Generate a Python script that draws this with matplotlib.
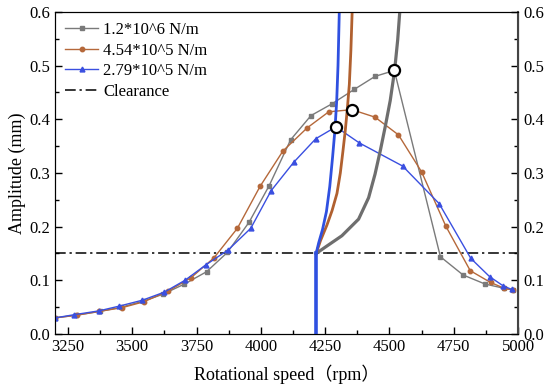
import matplotlib
matplotlib.use("Agg")
import matplotlib.pyplot as plt
from matplotlib.ticker import MultipleLocator

plt.rcParams['font.family'] = ['Liberation Serif', 'Noto Sans CJK SC']
plt.rcParams['mathtext.fontset'] = 'stix'

# Frequency-response series
gray_x = [3200, 3281, 3374, 3458, 3542, 3619, 3703, 3789, 3870, 3954, 4032, 4116, 4195,
          4277, 4364, 4444, 4519, 4698, 4786, 4872, 4947, 4980]
gray_y = [0.030, 0.035, 0.042, 0.050, 0.061, 0.074, 0.093, 0.116, 0.152, 0.208, 0.276, 0.362,
          0.407, 0.429, 0.456, 0.480, 0.491, 0.144, 0.110, 0.093, 0.085, 0.082]

brown_x = [3200, 3285, 3370, 3460, 3545, 3640, 3729, 3818, 3909, 3997, 4086, 4180, 4264,
           4354, 4444, 4535, 4625, 4719, 4814, 4893, 4947, 4980]
brown_y = [0.030, 0.035, 0.042, 0.049, 0.060, 0.080, 0.105, 0.142, 0.197, 0.275, 0.341, 0.384,
           0.414, 0.418, 0.404, 0.371, 0.302, 0.201, 0.118, 0.096, 0.085, 0.082]

blue_x = [3200, 3275, 3370, 3450, 3540, 3625, 3705, 3787, 3874, 3961, 4040, 4128, 4214,
          4292, 4383, 4551, 4693, 4816, 4889, 4941, 4975]
blue_y = [0.030, 0.036, 0.043, 0.052, 0.063, 0.078, 0.100, 0.129, 0.157, 0.197, 0.267, 0.320,
          0.364, 0.386, 0.356, 0.313, 0.243, 0.141, 0.107, 0.090, 0.083]

# Backbone curves
bb_gray_x = [4215, 4251, 4315, 4380, 4419, 4444, 4465, 4483, 4503, 4520, 4532, 4540]
bb_gray_y = [0.150, 0.162, 0.183, 0.214, 0.254, 0.298, 0.343, 0.385, 0.435, 0.491, 0.548, 0.600]
bb_brown_x = [4215, 4232, 4257, 4277, 4296, 4309, 4319, 4328, 4336, 4344, 4350, 4355]
bb_brown_y = [0.150, 0.174, 0.203, 0.230, 0.262, 0.300, 0.340, 0.378, 0.418, 0.465, 0.528, 0.600]
bb_blue_x = [4215, 4225, 4240, 4255, 4268, 4279, 4288, 4295, 4300, 4305]
bb_blue_y = [0.150, 0.170, 0.195, 0.228, 0.275, 0.330, 0.380, 0.435, 0.500, 0.600]
stem_x = [4215, 4215]
stem_y = [0.0, 0.150]

# Jump points (open circles)
jump_x = [4519, 4354, 4292]
jump_y = [0.491, 0.418, 0.386]

clearance = 0.15
labels = ['1.2*10^6 N/m', '4.54*10^5 N/m', '2.79*10^5 N/m', 'Clearance']

c_gray = '#7a7a7a'
c_brown = '#b5683a'
c_blue = '#3a4fe0'

fig = plt.figure(figsize=(5.5, 3.89), dpi=100)
ax = fig.add_axes([0.1, 0.1414, 0.842, 0.8278])

ax.plot(gray_x, gray_y, color=c_gray, lw=1.0, marker='s', ms=3.2, label=labels[0], zorder=3)
ax.plot(brown_x, brown_y, color=c_brown, lw=1.0, marker='o', ms=3.2, label=labels[1], zorder=3)
ax.plot(blue_x, blue_y, color=c_blue, lw=1.0, marker='^', ms=3.5, label=labels[2], zorder=3)
ax.axhline(clearance, color='black', lw=1.1, ls=(0, (7, 2.5, 1.5, 2.5)), label=labels[3], zorder=2)

ax.plot(bb_gray_x, bb_gray_y, color='#6e6e6e', lw=2.3, zorder=4)
ax.plot(bb_brown_x, bb_brown_y, color='#b0602f', lw=2.0, zorder=4)
ax.plot(bb_blue_x, bb_blue_y, color='#2f50e0', lw=2.0, zorder=4)
ax.plot(stem_x, stem_y, color='#2f50e0', lw=2.6, zorder=4)

ax.plot(jump_x, jump_y, ls='none', marker='o', ms=8, mfc='white', mec='black', mew=1.6, zorder=6)

ax.set_xlim(3200, 5000)
ax.set_ylim(0, 0.6)
ax.set_xticks([3250, 3500, 3750, 4000, 4250, 4500, 4750, 5000])
ax.xaxis.set_minor_locator(MultipleLocator(125))
ax.yaxis.set_major_locator(MultipleLocator(0.1))
ax.yaxis.set_minor_locator(MultipleLocator(0.05))
ax.yaxis.set_major_formatter(plt.FuncFormatter(lambda v, p: f'{v:.1f}'))
ax.tick_params(which='both', direction='in', top=False, right=False, labelsize=12)
ax.tick_params(which='major', length=5, width=1)
ax.tick_params(which='minor', length=3, width=1)

ax2 = ax.twinx()
ax2.set_ylim(0, 0.6)
ax2.yaxis.set_major_locator(MultipleLocator(0.1))
ax2.yaxis.set_minor_locator(MultipleLocator(0.05))
ax2.yaxis.set_major_formatter(plt.FuncFormatter(lambda v, p: f'{v:.1f}'))
ax2.tick_params(which='both', direction='in', labelsize=12)
ax2.tick_params(which='major', length=5, width=1)
ax2.tick_params(which='minor', length=3, width=1)
ax2.spines['right'].set_color('#444444')
ax2.spines['right'].set_linewidth(1.5)

ax.set_xlabel('Rotational speed（rpm）', fontsize=13, labelpad=7)
ax.set_ylabel('Amplitude (mm)', fontsize=13, labelpad=2)

ax.legend(loc='upper left', frameon=False, fontsize=12, handlelength=2.0,
          handletextpad=0.3, labelspacing=0.28, borderaxespad=0.2)

fig.savefig('out.png', dpi=100)
